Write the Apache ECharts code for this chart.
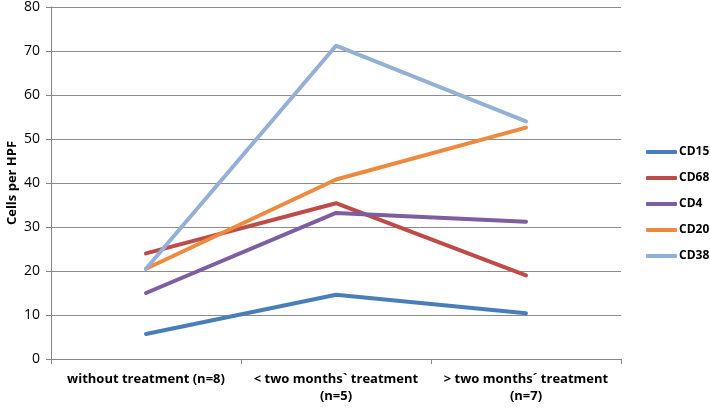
<!DOCTYPE html>
<html><head><meta charset="utf-8">
<script src="https://cdn.jsdelivr.net/npm/echarts@6/dist/echarts.min.js"></script>
<style>html,body{margin:0;padding:0;background:#fff}#c{width:710px;height:408px}</style>
</head><body><div id="c"></div>
<script>
const categories = ['without treatment (n=8)', '< two months` treatment\n(n=5)', '> two months\u00b4 treatment\n(n=7)'];
const seriesNames = ['CD15', 'CD68', 'CD4', 'CD20', 'CD38'];
const cd15 = [5.7, 14.6, 10.4];
const cd68 = [24.0, 35.4, 19.0];
const cd4 = [15.0, 33.2, 31.2];
const cd20 = [20.5, 40.8, 52.6];
const cd38 = [20.5, 71.2, 54.0];
const yTicks = [0, 10, 20, 30, 40, 50, 60, 70, 80];

const values = [cd15, cd68, cd4, cd20, cd38];
const colors = ['#4A7EBB', '#BE4B48', '#7D5FA0', '#EE8A3F', '#94B0D6'];
const font = "'Open Sans', 'Liberation Sans', sans-serif";

const chart = echarts.init(document.getElementById('c'), null, {renderer: 'canvas'});
chart.setOption({
  animation: false,
  backgroundColor: '#fff',
  grid: {left: 51, right: 89, top: 7, bottom: 49, containLabel: false, outerBoundsMode: 'none'},
  legend: {
    orient: 'vertical', left: 641, top: 'middle',
    itemWidth: 31, itemHeight: 4, itemGap: 14,
    icon: 'roundRect',
    data: seriesNames,
    textStyle: {fontFamily: font, fontWeight: 'bold', fontSize: 12, color: '#000', padding: [0, 0, 0, -3]}
  },
  xAxis: {
    type: 'category', data: categories, boundaryGap: true,
    axisLine: {lineStyle: {color: '#868686', width: 1}},
    axisTick: {show: true, length: 5, lineStyle: {color: '#868686'}},
    axisLabel: {fontFamily: font, fontWeight: 'bold', fontSize: 13, color: '#000', margin: 12, lineHeight: 17, interval: 0}
  },
  yAxis: {
    type: 'value', min: 0, max: 80, interval: 10,
    name: 'Cells per HPF', nameLocation: 'middle', nameGap: 32, nameRotate: 90, nameMoveOverlap: false,
    nameTextStyle: {fontFamily: font, fontWeight: 'bold', fontSize: 13, color: '#000'},
    axisLine: {show: true, lineStyle: {color: '#868686'}},
    axisTick: {show: true, length: 5, lineStyle: {color: '#868686'}},
    splitLine: {lineStyle: {color: '#8c8c8c', width: 1}},
    axisLabel: {fontFamily: font, fontSize: 14, color: '#000', margin: 11,
      formatter: v => yTicks.includes(v) ? String(v) : ''}
  },
  series: seriesNames.map((n, i) => ({
    name: n, type: 'line', data: values[i], symbol: 'none',
    lineStyle: {color: colors[i], width: 4, cap: 'round', join: 'round'},
    itemStyle: {color: colors[i]}
  }))
});
</script></body></html>
